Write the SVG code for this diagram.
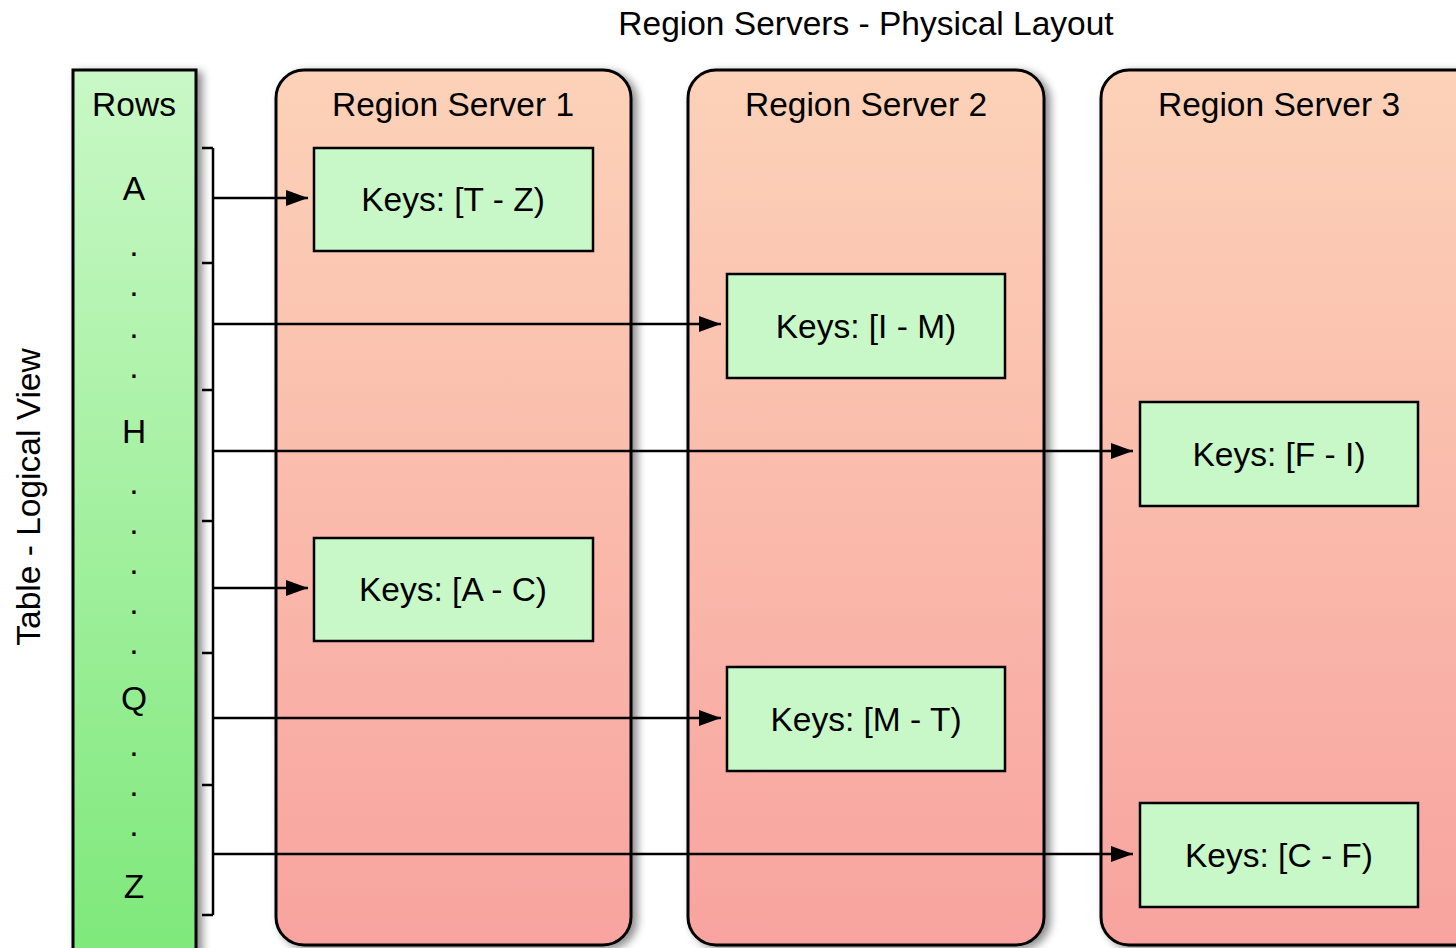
<svg xmlns="http://www.w3.org/2000/svg" width="1456" height="948" viewBox="0 0 1456 948">
<defs>
<linearGradient id="gRows" x1="0" y1="0" x2="0" y2="1">
<stop offset="0" stop-color="#c9f8c6"/>
<stop offset="1" stop-color="#7de879"/>
</linearGradient>
<linearGradient id="gRS" gradientUnits="userSpaceOnUse" x1="0" y1="70" x2="0" y2="945">
<stop offset="0" stop-color="#fcd2b8"/>
<stop offset="1" stop-color="#f8a39f"/>
</linearGradient>
<filter id="sh" x="-20%" y="-10%" width="140%" height="120%">
<feDropShadow dx="5" dy="3" stdDeviation="4" flood-color="#000" flood-opacity="0.45"/>
</filter>
<marker id="ah" viewBox="0 0 22 16" refX="22" refY="8" markerWidth="22" markerHeight="16" markerUnits="userSpaceOnUse" orient="auto">
<path d="M0,0 L22,8 L0,16 Z" fill="#000"/>
</marker>
<style>
text{font-family:"Liberation Sans",Arial,Helvetica,sans-serif;font-size:33.5px;fill:#000;text-anchor:middle}
.rs{fill:url(#gRS);stroke:#000;stroke-width:3;filter:url(#sh)}
.key{fill:#c9f8c8;stroke:#000;stroke-width:2.5}
.ln{stroke:#000;stroke-width:2.5;fill:none}
</style>
</defs>
<rect width="1456" height="948" fill="#fff"/>
<text x="866" y="35">Region Servers - Physical Layout</text>
<text transform="translate(40,497) rotate(-90)" x="0" y="0">Table - Logical View</text>

<g id="rows">
<rect x="73" y="70" width="123" height="900" fill="url(#gRows)" stroke="#000" stroke-width="3" filter="url(#sh)"/>
<text x="134" y="116">Rows</text>
<text x="134" y="200">A</text>
<text x="134" y="256">.</text>
<text x="134" y="296">.</text>
<text x="134" y="338">.</text>
<text x="134" y="378">.</text>
<text x="134" y="443">H</text>
<text x="134" y="494">.</text>
<text x="134" y="534">.</text>
<text x="134" y="574">.</text>
<text x="134" y="614">.</text>
<text x="134" y="654">.</text>
<text x="134" y="710">Q</text>
<text x="134" y="756">.</text>
<text x="134" y="796">.</text>
<text x="134" y="836">.</text>
<text x="134" y="898">Z</text>
</g>

<g id="rs1">
<rect class="rs" x="276" y="70" width="355" height="875" rx="28" ry="28"/>
<text x="453" y="116">Region Server 1</text>
</g>
<g id="rs2">
<rect class="rs" x="688" y="70" width="356" height="875" rx="28" ry="28"/>
<text x="866" y="116">Region Server 2</text>
</g>
<g id="rs3">
<rect class="rs" x="1101" y="70" width="390" height="875" rx="28" ry="28"/>
<text x="1279" y="116">Region Server 3</text>
</g>

<g id="k-tz"><rect class="key" x="314" y="148" width="279" height="103"/><text x="453" y="211">Keys: [T - Z)</text></g>
<g id="k-ac"><rect class="key" x="314" y="538" width="279" height="103"/><text x="453" y="601">Keys: [A - C)</text></g>
<g id="k-im"><rect class="key" x="727" y="274" width="278" height="104"/><text x="866" y="338">Keys: [I - M)</text></g>
<g id="k-mt"><rect class="key" x="727" y="667" width="278" height="104"/><text x="866" y="731">Keys: [M - T)</text></g>
<g id="k-fi"><rect class="key" x="1140" y="402" width="278" height="104"/><text x="1279" y="466">Keys: [F - I)</text></g>
<g id="k-cf"><rect class="key" x="1140" y="803" width="278" height="104"/><text x="1279" y="867">Keys: [C - F)</text></g>

<g id="connectors">
<path class="ln" d="M213,148 V915 M202,148 H213 M202,263 H213 M202,390 H213 M202,521 H213 M202,653 H213 M202,785 H213 M202,915 H213"/>
<line class="ln" x1="213" y1="198" x2="308" y2="198" marker-end="url(#ah)"/>
<line class="ln" x1="213" y1="324" x2="721" y2="324" marker-end="url(#ah)"/>
<line class="ln" x1="213" y1="451" x2="1133" y2="451" marker-end="url(#ah)"/>
<line class="ln" x1="213" y1="588" x2="308" y2="588" marker-end="url(#ah)"/>
<line class="ln" x1="213" y1="718" x2="721" y2="718" marker-end="url(#ah)"/>
<line class="ln" x1="213" y1="854" x2="1133" y2="854" marker-end="url(#ah)"/>
</g>
</svg>
